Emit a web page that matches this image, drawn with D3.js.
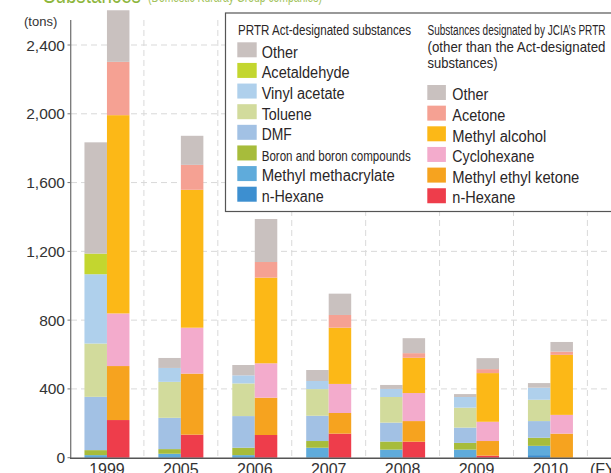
<!DOCTYPE html>
<html><head><meta charset="utf-8">
<script src="https://cdn.jsdelivr.net/npm/d3@7"></script>
<style>
html,body{margin:0;padding:0;background:#fff;}
svg{display:block;font-family:"Liberation Sans",Arial,Helvetica,sans-serif;}
</style></head>
<body><svg id="c" width="611" height="473"></svg>
<script>
const years = ["1999","2005","2006","2007","2008","2009","2010"];
const yTicks = [0,400,800,1200,1600,2000,2400];

// PRTR Act-designated substances (tons), bottom to top
const prtrHexane        = [0,0,0,0,0,0,15];
const prtrMMA           = [15,23,15,58,47,47,54];
const prtrBoron         = [29,27,43,39,47,39,47];
const prtrDMF           = [310,182,184,147,110,89,97];
const prtrToluene       = [310,209,190,155,149,116,124];
const prtrVinylAcetate  = [403,81,47,47,47,62,70];
const prtrAcetaldehyde  = [120,0,0,0,0,0,0];
const prtrOther         = [647,58,60,64,23,17,27];

// Substances designated by JCIA's PRTR (tons), bottom to top
const jciaHexane        = [219,134,132,140,93,12,0];
const jciaMEK           = [314,355,217,120,120,85,140];
const jciaCyclohexane   = [306,267,200,169,163,112,109];
const jciaMethanol      = [1153,802,498,327,205,283,349];
const jciaAcetone       = [310,145,91,74,27,23,19];
const jciaOther         = [300,169,250,124,87,64,56];

const prtrSeries = [
  {key:"n-Hexane", vals:prtrHexane, color:"#3d8fd0", lw:62},
  {key:"Methyl methacrylate", vals:prtrMMA, color:"#5fabdb", lw:133},
  {key:"Boron and boron compounds", vals:prtrBoron, color:"#a7bc3b", lw:149},
  {key:"DMF", vals:prtrDMF, color:"#a2c1e4", lw:30},
  {key:"Toluene", vals:prtrToluene, color:"#d2db9c", lw:50},
  {key:"Vinyl acetate", vals:prtrVinylAcetate, color:"#afd0ec", lw:83},
  {key:"Acetaldehyde", vals:prtrAcetaldehyde, color:"#c3d62f", lw:88},
  {key:"Other", vals:prtrOther, color:"#c9c1bf", lw:36}
];
const jciaSeries = [
  {key:"n-Hexane", vals:jciaHexane, color:"#ee3d4b", lw:63},
  {key:"Methyl ethyl ketone", vals:jciaMEK, color:"#f6a31f", lw:127},
  {key:"Cyclohexane", vals:jciaCyclohexane, color:"#f3abcc", lw:82},
  {key:"Methyl alcohol", vals:jciaMethanol, color:"#fcb817", lw:94},
  {key:"Acetone", vals:jciaAcetone, color:"#f5a193", lw:53},
  {key:"Other", vals:jciaOther, color:"#c9c1bf", lw:36}
];

const svg = d3.select("#c");
const x = d3.scaleBand().domain(years).range([70, 587.4]);
const y = d3.scaleLinear().domain([0,2400]).range([457.7, 45]);
const barW = 22.5;

// grid
const grid = svg.append("g");
grid.selectAll("line.h").data(yTicks.filter(d=>d>0)).enter().append("line")
  .attr("x1",71).attr("x2",611).attr("y1",d=>y(d)).attr("y2",d=>y(d))
  .attr("stroke","#d9d9d9").attr("stroke-dasharray","6,4");
grid.selectAll("line.v").data(years).enter().append("line")
  .attr("x1",d=>x(d)+x.bandwidth()).attr("x2",d=>x(d)+x.bandwidth())
  .attr("y1",20).attr("y2",457)
  .attr("stroke","#d9d9d9").attr("stroke-dasharray","6,4");

function drawStack(series, offset){
  const rows = years.map((yr,i)=>{const o={year:yr}; series.forEach(s=>o[s.key]=s.vals[i]); return o;});
  const stack = d3.stack().keys(series.map(s=>s.key))(rows);
  const g = svg.append("g");
  stack.forEach((layer,li)=>{
    g.selectAll(null).data(layer).enter().append("rect")
      .attr("x",d=>x(d.data.year)+x.bandwidth()/2+offset)
      .attr("width",barW)
      .attr("y",d=>y(d[1]))
      .attr("height",d=>Math.max(0,y(d[0])-y(d[1])))
      .attr("fill",series[li].color);
  });
}
drawStack(prtrSeries, -barW);
drawStack(jciaSeries, 0);

// title (clipped at top)
svg.append("text").attr("x",43).attr("y",2.5).attr("font-size",24).attr("fill","#8db63c")
  .attr("textLength",98).attr("lengthAdjust","spacingAndGlyphs").text("Substances");
svg.append("text").attr("x",148).attr("y",1.5).attr("font-size",15).attr("fill","#a3c35c")
  .attr("textLength",174).attr("lengthAdjust","spacingAndGlyphs").text("(Domestic Kuraray Group companies)");

// legend
const lg = svg.append("g");
lg.append("rect").attr("x",225.5).attr("y",13).attr("width",400).attr("height",198.5)
  .attr("fill","#fff").attr("stroke","#555").attr("stroke-width",1.2);
const txtCol = "#2a2627";
lg.append("text").attr("x",238).attr("y",35).attr("font-size",14).attr("fill",txtCol)
  .attr("textLength",173).attr("lengthAdjust","spacingAndGlyphs").text("PRTR Act-designated substances");
lg.append("text").attr("x",427.5).attr("y",35).attr("font-size",14).attr("fill",txtCol)
  .attr("textLength",178).attr("lengthAdjust","spacingAndGlyphs").text("Substances designated by JCIA\u2019s PRTR");
lg.append("text").attr("x",427.5).attr("y",51.5).attr("font-size",15).attr("fill",txtCol)
  .attr("textLength",178).attr("lengthAdjust","spacingAndGlyphs").text("(other than the Act-designated");
lg.append("text").attr("x",427.5).attr("y",67.5).attr("font-size",15).attr("fill",txtCol)
  .attr("textLength",70).attr("lengthAdjust","spacingAndGlyphs").text("substances)");

const leftItems = prtrSeries.slice().reverse();
leftItems.forEach((s,i)=>{
  const top = 42.3 + i*20.63;
  lg.append("rect").attr("x",237.3).attr("y",top).attr("width",19.4).attr("height",15).attr("fill",s.color);
  lg.append("text").attr("x",261.7).attr("y",top+15.4).attr("font-size",s.key.startsWith("Boron")?14.5:16)
    .attr("fill",txtCol).attr("textLength",s.lw).attr("lengthAdjust","spacingAndGlyphs").text(s.key);
});
const rightItems = jciaSeries.slice().reverse();
rightItems.forEach((s,i)=>{
  const top = 85 + i*20.65;
  lg.append("rect").attr("x",427.3).attr("y",top).attr("width",18.6).attr("height",15).attr("fill",s.color);
  lg.append("text").attr("x",452.3).attr("y",top+15.2).attr("font-size",16)
    .attr("fill",txtCol).attr("textLength",s.lw).attr("lengthAdjust","spacingAndGlyphs").text(s.key);
});

// y axis
const ya = svg.append("g");
ya.append("line").attr("x1",70.7).attr("x2",70.7).attr("y1",20).attr("y2",458.5).attr("stroke","#777").attr("stroke-width",1.3);
ya.selectAll("line.t").data(yTicks).enter().append("line")
  .attr("x1",67.5).attr("x2",70.7).attr("y1",d=>y(d)).attr("y2",d=>y(d)).attr("stroke","#777");
ya.selectAll("text").data(yTicks).enter().append("text")
  .attr("x",65).attr("y",d=>y(d)).attr("dy","0.36em").attr("text-anchor","end")
  .attr("font-size",15.5).attr("fill","#333").text(d=>d3.format(",")(d));
svg.append("text").attr("x",24).attr("y",26).attr("font-size",13).attr("fill","#333").text("(tons)");

// x axis
svg.append("line").attr("x1",70).attr("x2",611).attr("y1",458.3).attr("y2",458.3).attr("stroke","#555").attr("stroke-width",1.4);
svg.append("g").selectAll("text").data(years).enter().append("text")
  .attr("x",d=>x(d)+x.bandwidth()/2).attr("y",475).attr("text-anchor","middle")
  .attr("font-size",16).attr("fill","#333").text(d=>d);
svg.append("text").attr("x",590).attr("y",475).attr("font-size",16).attr("fill","#333").text("(FY)");
</script></body></html>
